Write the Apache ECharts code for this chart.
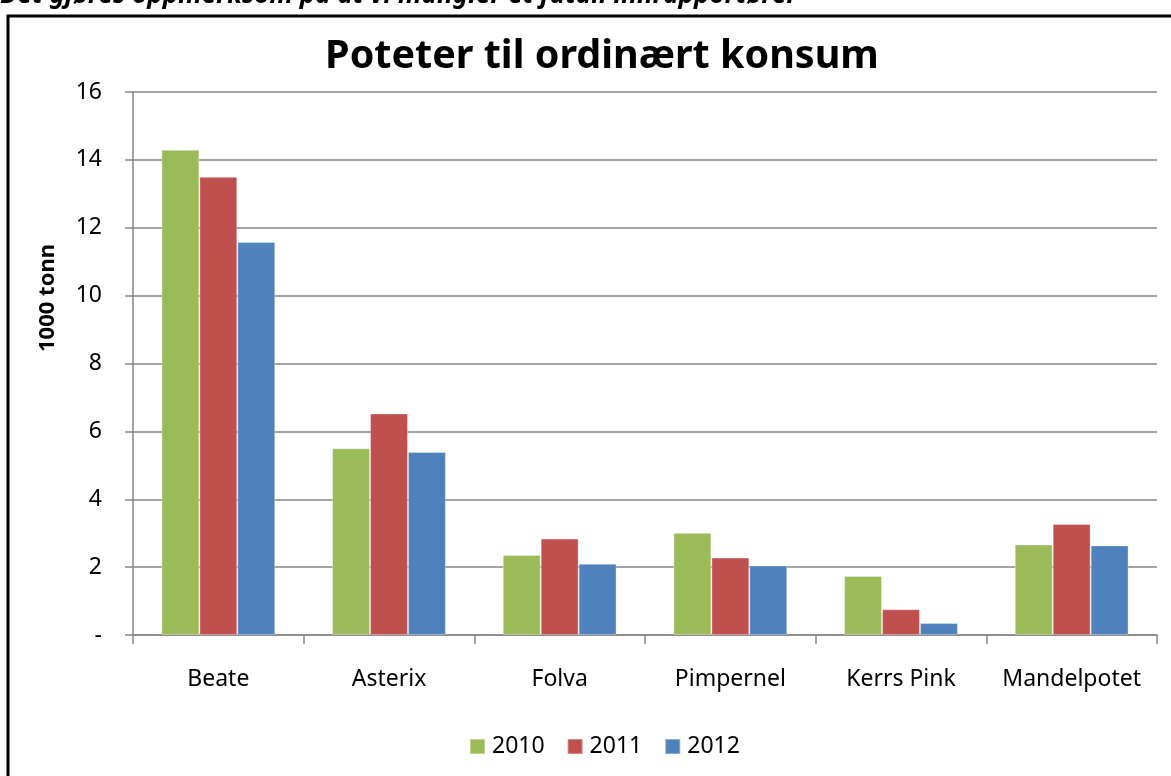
<!DOCTYPE html>
<html>
<head>
<meta charset="utf-8">
<script src="https://cdn.jsdelivr.net/npm/echarts@6/dist/echarts.min.js"></script>
<style>
  html, body { margin: 0; padding: 0; background: #fff; }
  #chart { width: 1171px; height: 776px; }
</style>
</head>
<body>
<div id="chart"></div>
<script>
var sorter = ['Beate', 'Asterix', 'Folva', 'Pimpernel', 'Kerrs Pink', 'Mandelpotet'];
var aar = ['2010', '2011', '2012'];
var v2010 = [14.3, 5.5, 2.36, 3.01, 1.74, 2.67];
var v2011 = [13.5, 6.53, 2.84, 2.28, 0.76, 3.27];
var v2012 = [11.58, 5.39, 2.1, 2.05, 0.35, 2.64];
var yTicks = ['-', '2', '4', '6', '8', '10', '12', '14', '16'];
var farger = ['#9BBB59', '#C0504D', '#4F81BD'];

var font = '"Noto Sans", sans-serif';
var dom = document.getElementById('chart');
var myChart = echarts.init(dom);

function serie(navn, data, farge) {
    return {
        name: navn,
        type: 'bar',
        data: data,
        barGap: '0%',
        barCategoryGap: '33.3%',
        itemStyle: { color: farge, borderColor: 'rgba(255,255,255,0.35)', borderWidth: 1 }
    };
}

var option = {
    animation: false,
    textStyle: { fontFamily: font },
    title: {
        text: 'Poteter til ordinært konsum',
        left: 597,
        top: 32,
        textAlign: 'center',
        textStyle: { fontSize: 39.5, fontWeight: 'bold', color: '#000', fontFamily: font }
    },
    legend: {
        data: aar,
        bottom: 13,
        left: 464,
        itemWidth: 15,
        itemHeight: 15,
        itemGap: 22,
        icon: 'rect',
        textStyle: { fontSize: 23, color: '#000', padding: [0, 0, 0, 2] }
    },
    grid: { left: 133, right: 14, top: 92, bottom: 141 },
    xAxis: {
        type: 'category',
        data: sorter,
        axisLine: { lineStyle: { color: '#868686', width: 1.5 } },
        axisTick: { show: true, length: 9, lineStyle: { color: '#868686', width: 1.5 } },
        axisLabel: { fontSize: 23, color: '#000', margin: 33, interval: 0 }
    },
    yAxis: {
        type: 'value',
        min: 0,
        max: 16,
        interval: 2,
        axisLine: { show: true, lineStyle: { color: '#868686', width: 1.5 } },
        axisTick: { show: true, length: 8, lineStyle: { color: '#868686', width: 1.5 } },
        splitLine: { lineStyle: { color: '#868686', width: 1.5 } },
        axisLabel: {
            fontSize: 23,
            color: '#000',
            margin: 31,
            formatter: function (v) { return yTicks[v / 2]; }
        }
    },
    graphic: [
        {
            type: 'rect',
            shape: { x: 8, y: 16, width: 1250, height: 850 },
            style: { fill: 'none', stroke: '#000', lineWidth: 3 },
            z: 10
        },
        {
            type: 'text',
            x: 0,
            y: -4,
            style: {
                text: 'Det gjøres oppmerksom på at vi mangler et fåtall innrapportører',
                fontSize: 26,
                fontWeight: 'bold',
                fontStyle: 'italic',
                fontFamily: font,
                fill: '#000',
                verticalAlign: 'middle'
            }
        },
        {
            type: 'text',
            x: 48,
            y: 298,
            rotation: Math.PI / 2,
            style: {
                text: '1000 tonn',
                fontSize: 22,
                fontWeight: 'bold',
                fontFamily: font,
                fill: '#000',
                align: 'center',
                verticalAlign: 'middle'
            }
        }
    ],
    series: [
        serie(aar[0], v2010, farger[0]),
        serie(aar[1], v2011, farger[1]),
        serie(aar[2], v2012, farger[2])
    ]
};

if (option && typeof option === "object") {
    myChart.setOption(option, true);
}
</script>
</body>
</html>
